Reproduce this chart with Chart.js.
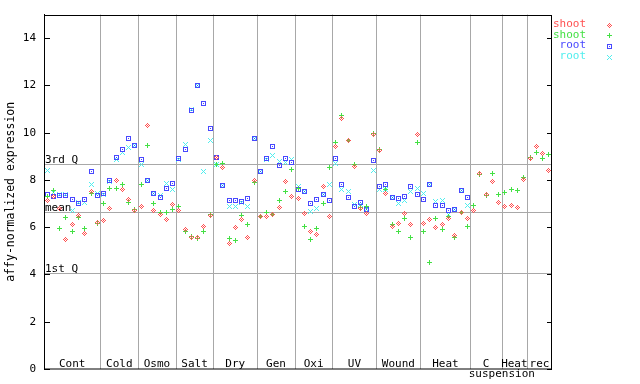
<!DOCTYPE html>
<html><head><meta charset="utf-8">
<script src="https://cdn.jsdelivr.net/npm/chart.js@4/dist/chart.umd.min.js"></script>
<style>html,body{margin:0;padding:0;background:#fff;}canvas{display:block;}</style>
</head><body>
<canvas id="c" width="640" height="384"></canvas>
<script>
// ---- data ----
const groupLabels = ['Cont','Cold','Osmo','Salt','Dry','Gen','Oxi','UV','Wound','Heat','C','Heat','rec'];
const groupSizes  = [9,6,6,6,7,6,6,7,7,8,5,4,4];
const subLabel = 'suspension';          // second line under the "C" group
const yTicks = [0,2,4,6,8,10,12,14];
const refLabels = ['3rd Q','mean','1st Q'];
const refValues = [8.68,6.64,4.08];
const seriesNames = ['shoot','shoot','root','root'];
const yTitle = 'affy-normalized expression';

const shootRep1 = [7.13,7.30,6.80,5.48,6.10,6.50,5.72,7.52,6.19,
  6.28,6.79,7.97,7.58,7.16,6.71,
  6.87,10.32,6.71,6.52,6.31,6.95,
  6.71,5.89,5.55,5.56,6.03,6.50,
  8.95,8.52,5.30,5.98,6.33,5.55,7.98,
  6.45,6.47,6.52,6.82,7.93,7.28,
  7.20,6.57,5.80,5.68,7.72,6.45,
  9.40,10.61,9.69,8.57,6.78,6.59,9.94,
  9.24,7.44,6.03,6.14,6.57,6.10,9.91,
  6.14,6.33,5.98,6.10,6.35,5.65,6.64,6.36,
  6.71,8.28,7.38,7.93,7.03,
  6.86,6.90,6.85,8.00,
  8.89,9.40,9.10,8.42];
const shootRep2 = [7.30,7.55,5.93,6.40,5.80,6.43,5.95,7.41,6.14,
  6.99,7.66,7.66,7.79,7.03,6.75,
  7.83,9.44,6.99,6.63,6.62,6.74,
  6.89,5.81,5.60,5.52,5.83,6.55,
  8.65,8.71,5.51,5.44,6.50,6.10,7.90,
  6.47,6.64,6.54,7.13,7.53,8.43,
  7.62,6.03,5.47,5.93,7.01,8.51,
  9.59,10.74,9.66,8.67,6.85,6.87,9.98,
  9.28,7.58,6.10,5.83,6.36,5.58,9.59,
  5.82,4.50,6.36,5.89,6.45,5.58,6.64,6.05,
  6.90,8.22,7.33,8.28,7.37,
  7.47,7.58,7.55,8.10,
  8.95,9.18,8.89,9.06];
const rootRep1 = [7.37,7.29,7.35,7.35,7.19,6.99,7.19,8.37,7.35,
  7.41,7.97,8.95,9.30,9.77,9.47,
  8.85,7.97,7.41,7.24,7.66,7.87,
  8.89,9.31,10.92,11.98,11.25,10.19,
  8.95,7.76,7.13,7.13,7.10,7.21,9.77,
  8.37,8.89,9.40,8.63,8.89,8.72,
  7.60,7.53,6.99,7.16,7.37,7.13,
  8.89,7.79,7.24,6.87,7.03,6.73,8.84,
  7.72,7.79,7.24,7.20,7.31,7.72,7.37,
  7.16,7.83,6.90,6.94,6.71,6.76,7.56,7.24,
  null,null,null,null,null,
  null,null,null,null,
  null,null,null,null];
const rootRep2 = [8.39,7.47,7.38,7.38,6.71,7.06,7.05,7.80,7.41,
  7.38,7.94,8.87,9.15,9.38,9.46,
  8.67,7.97,7.41,7.33,7.87,7.58,
  8.87,9.49,11.00,11.98,8.37,9.69,
  8.67,7.76,6.89,6.89,7.05,6.86,9.74,
  8.37,8.86,9.03,8.78,8.74,8.85,
  7.73,7.50,6.68,6.78,7.40,7.79,
  8.70,7.58,7.52,6.95,6.95,6.75,8.39,
  7.58,7.60,7.24,6.99,7.12,7.50,7.62,
  7.41,7.83,7.10,7.13,6.56,6.76,7.56,6.92,
  null,null,null,null,null,
  null,null,null,null,
  null,null,null,null];

// ---- styles ----
const colors = ['#ff5050','#44e044','#4848ff','#50eeee'];
const kinds = ['diamond','plus','square','cross'];
const FONT = 'DejaVu Sans Mono';
const GRID = '#a8a8a8';

function makeMarker(kind, color){
  const c = document.createElement('canvas'); c.width = 7; c.height = 7;
  const g = c.getContext('2d'); g.fillStyle = color;
  const P = (dx,dy)=>g.fillRect(3+dx,3+dy,1,1);
  for (let dx=-2; dx<=2; dx++) for (let dy=-2; dy<=2; dy++) {
    const ax=Math.abs(dx), ay=Math.abs(dy);
    if (kind==='diamond' && (ax+ay===2 || (dx===0&&dy===0))) P(dx,dy);
    if (kind==='plus' && (dx===0 || dy===0)) P(dx,dy);
    if (kind==='square' && (ax===2 || ay===2 || (dx===0&&dy===0))) P(dx,dy);
    if (kind==='cross' && ax===ay) P(dx,dy);
  }
  return c;
}
const markers = kinds.map((k,i)=>makeMarker(k, colors[i]));

const toPoints = arr => arr.map((v,i)=> v==null ? null : {x:i, y:v}).filter(Boolean);
const seriesValues = [shootRep1, shootRep2, rootRep1, rootRep2];

const deco = {
  id:'deco',
  beforeDatasetsDraw(chart){
    const {ctx, chartArea:a, scales:{x, y}} = chart;
    ctx.save();
    ctx.lineWidth = 1;
    // group separators
    ctx.strokeStyle = GRID;
    let cum = 0;
    const bounds = [];
    groupSizes.forEach((n, gi)=>{
      const start = cum; cum += n;
      bounds.push([start, cum-1]);
      if (gi < groupSizes.length-1){
        const px = Math.round(x.getPixelForValue(cum-0.5))+0.5;
        ctx.beginPath(); ctx.moveTo(px, a.top); ctx.lineTo(px, a.bottom); ctx.stroke();
      }
    });
    // reference lines
    ctx.font = '11px "'+FONT+'"';
    ctx.fillStyle = '#000';
    ctx.textAlign = 'left'; ctx.textBaseline = 'alphabetic';
    refValues.forEach((v, i)=>{
      const py = Math.round(y.getPixelForValue(v))+0.5;
      ctx.beginPath(); ctx.moveTo(a.left, py); ctx.lineTo(a.right, py); ctx.stroke();
      ctx.fillText(refLabels[i], a.left+1, py-1.5);
    });
    // frame
    ctx.strokeStyle = '#000';
    ctx.strokeRect(Math.round(a.left)+0.5, Math.round(a.top)+0.5, Math.round(a.right-a.left)-1, Math.round(a.bottom-a.top)-0.5);
    // inward ticks on both sides
    yTicks.forEach(v=>{
      const py = Math.round(y.getPixelForValue(v))+0.5;
      ctx.beginPath();
      ctx.moveTo(a.left, py); ctx.lineTo(a.left+6, py);
      ctx.moveTo(a.right-5, py); ctx.lineTo(a.right, py);
      ctx.stroke();
    });
    // category labels
    ctx.textAlign = 'center';
    bounds.forEach(([s,e], gi)=>{
      const cx = (x.getPixelForValue(s-0.5)+x.getPixelForValue(e+0.5))/2;
      ctx.fillText(groupLabels[gi], cx, a.bottom-2);
      if (groupLabels[gi]==='C'){
        ctx.fillText(subLabel, x.getPixelForValue(e+0.5), a.bottom+8);
      }
    });
    // legend
    ctx.textAlign = 'right';
    seriesNames.forEach((name, i)=>{
      const my = 24.5 + 10.7*i;
      ctx.fillStyle = colors[i];
      ctx.fillText(name, 586, my+2.5);
      ctx.imageSmoothingEnabled = false;
      ctx.drawImage(markers[i], 609-3.5, Math.round(my)-3.5+0.5);
    });
    ctx.restore();
    chart.ctx.imageSmoothingEnabled = false;
  }
};

new Chart(document.getElementById('c'), {
  type:'scatter',
  data:{
    datasets: seriesValues.map((vals, i)=>({
      label: seriesNames[i],
      data: toPoints(vals),
      pointStyle: markers[i],
      pointRadius: 3,
      borderColor: colors[i],
      backgroundColor: colors[i]
    }))
  },
  options:{
    responsive:false,
    animation:false,
    events:[],
    layout:{padding:{left:0, right:88, top:13.5, bottom:15}},
    plugins:{legend:{display:false}, tooltip:{enabled:false}},
    scales:{
      x:{type:'linear', min:-0.5, max:80.5, display:false},
      y:{type:'linear', min:0, max:15, position:'left',
        afterFit(s){ s.width = 44; },
        afterBuildTicks(s){ s.ticks = yTicks.map(v=>({value:v})); },
        ticks:{padding:8, color:'#000', font:{family:FONT, size:11}},
        grid:{display:false, drawTicks:false},
        border:{display:true, color:'#000', width:1},
        title:{display:true, text:yTitle, color:'#000', font:{family:FONT, size:11.5}}
      }
    }
  },
  plugins:[deco]
});
</script>
</body></html>
